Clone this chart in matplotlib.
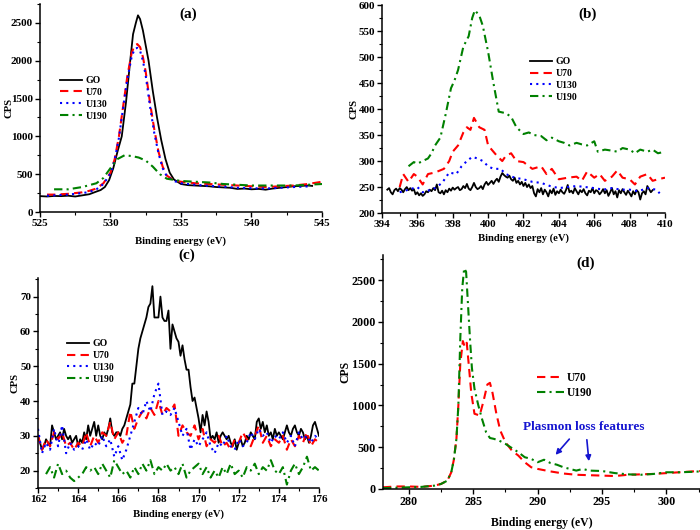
import numpy as np
import matplotlib
matplotlib.use("Agg")
import matplotlib.pyplot as plt
from matplotlib.ticker import MultipleLocator

plt.rcParams["font.family"] = "serif"
plt.rcParams["font.serif"] = ["Liberation Serif", "DejaVu Serif"]
plt.rcParams["font.weight"] = "bold"
plt.rcParams["axes.labelweight"] = "bold"

# ---------------- (a) O1s ----------------
a_go_x = [525, 525.5, 526, 526.5, 527, 527.5, 528, 528.5, 529, 529.3, 529.6, 529.9, 530.2, 530.5,
          530.8, 531.1, 531.4, 531.6, 531.8, 531.95, 532.1, 532.3, 532.5, 532.7, 533.0, 533.3,
          533.6, 533.9, 534.2, 534.5, 535, 535.5, 536, 536.5, 537, 537.5, 538, 538.5, 539, 539.5,
          540, 540.5, 541, 541.5, 542, 542.5, 543, 543.5, 544, 544.3]
a_go_y = [210, 205, 212, 210, 215, 205, 220, 235, 270, 290, 330, 420, 580, 800,
          1000, 1450, 2000, 2350, 2500, 2600, 2550, 2400, 2200, 2000, 1600, 1250,
          950, 700, 520, 430, 370, 355, 350, 345, 340, 330, 325, 320, 305, 310,
          300, 305, 295, 310, 320, 330, 340, 345, 350, 345]
a_u70_x = [525.5, 526, 526.5, 527, 527.5, 528, 528.5, 529, 529.5, 530, 530.3, 530.6, 530.9, 531.2,
           531.5, 531.7, 531.9, 532.1, 532.3, 532.5, 532.8, 533.1, 533.4, 533.7, 534, 534.5, 535,
           536, 537, 538, 539, 540, 541, 542, 543, 544, 545]
a_u70_y = [230, 230, 235, 240, 250, 260, 280, 310, 380, 520, 700, 1000, 1400, 1800,
           2100, 2200, 2220, 2180, 2050, 1850, 1450, 1100, 800, 600, 480, 420, 400,
           380, 370, 360, 350, 340, 330, 340, 350, 370, 400]
a_u130_x = [525.5, 526, 526.5, 527, 527.5, 528, 528.5, 529, 529.5, 530, 530.3, 530.6, 530.9, 531.2,
            531.5, 531.7, 531.9, 532.1, 532.3, 532.5, 532.8, 533.1, 533.4, 533.7, 534, 534.5, 535,
            536, 537, 538, 539, 540, 541, 542, 543, 544.2]
a_u130_y = [215, 220, 225, 230, 240, 250, 265, 300, 370, 510, 690, 980, 1380, 1760,
            2050, 2150, 2170, 2130, 2000, 1800, 1400, 1050, 780, 580, 470, 410, 380,
            360, 345, 335, 320, 315, 310, 320, 330, 340]
a_u190_x = [526, 527, 528, 529, 529.5, 530, 530.5, 531, 531.5, 532, 532.5, 533, 533.5, 534,
            535, 536, 537, 538, 539, 540, 541, 542, 543, 544, 545]
a_u190_y = [300, 300, 330, 380, 450, 580, 700, 750, 740, 720, 680, 600, 500, 440,
            410, 400, 390, 370, 360, 350, 350, 350, 350, 360, 370]

# ---------------- (b) N1s ----------------
b_go_start, b_go_step = 394.3, 0.1
b_go_y = [245, 248, 240, 236, 244, 247, 242, 248, 245, 240,
          246, 250, 244, 248, 243, 246, 236, 240, 234, 238,
          233, 236, 242, 240, 245, 242, 248, 244, 255, 240,
          238, 243, 236, 244, 240, 247, 243, 249, 245, 248,
          250, 244, 246, 252, 248, 256, 247, 244, 250, 258,
          250, 246, 248, 252, 246, 255, 260, 254, 258, 262,
          256, 262, 266, 260, 270, 277, 273, 270, 268, 272,
          265, 262, 268, 258, 262, 255, 260, 252, 258, 250,
          255, 248, 252, 238, 232, 246, 240, 248, 236, 245,
          240, 232, 244, 238, 247, 235, 242, 238, 245, 240,
          237, 244, 254, 240, 243, 238, 248, 242, 236, 244,
          240, 246, 238, 234, 243, 240, 248, 238, 244, 242,
          236, 240, 246, 238, 244, 233, 240, 248, 236, 242,
          230, 244, 238, 246, 240, 235, 243, 238, 232, 242,
          236, 244, 240, 226, 238, 242, 236, 252, 246, 240,
          244]
b_u70_x = [395, 395.2, 395.5, 395.8, 396, 396.3, 396.6, 397, 397.5, 397.8, 398, 398.3, 398.6,
           398.8, 399, 399.2, 399.5, 399.8, 400, 400.5, 400.8, 401, 401.3, 401.6, 402, 402.5,
           403, 403.3, 403.6, 404, 404.5, 405, 405.3, 405.6, 406, 406.3, 406.6, 407, 407.3,
           407.6, 408, 408.3, 408.6, 409, 409.3, 409.6, 410]
b_u70_y = [250, 275, 260, 275, 270, 255, 275, 278, 285, 300, 318, 330, 355,
           365, 360, 383, 365, 360, 330, 310, 300, 310, 315, 300, 298, 285,
           290, 275, 285, 265, 268, 270, 262, 280, 268, 275, 262, 270, 282,
           268, 265, 255, 270, 275, 262, 265, 268]
b_u130_x = [395, 395.5, 396, 396.3, 396.6, 397, 397.4, 397.8, 398.2, 398.5, 398.8, 399.1, 399.4,
            399.7, 400, 400.3, 400.7, 401, 401.5, 402, 402.5, 403, 403.5, 404, 404.5, 405,
            405.5, 406, 406.5, 407, 407.5, 408, 408.5, 409, 409.5, 409.7]
b_u130_y = [240, 245, 250, 240, 243, 248, 258, 278, 275, 290, 300, 308, 305,
            300, 290, 285, 285, 275, 268, 265, 260, 258, 252, 248, 250, 252,
            250, 248, 245, 248, 245, 245, 242, 248, 245, 238]
b_u190_x = [395.5, 395.8, 396, 396.3, 396.6, 396.8, 397, 397.3, 397.6, 397.9, 398.1, 398.3, 398.6,
            398.9, 399.1, 399.25, 399.5, 399.7, 400, 400.3, 400.6, 401, 401.3, 401.6, 402, 402.3,
            402.6, 403, 403.3, 403.6, 404, 404.3, 404.6, 405, 405.3, 405.6, 406, 406.2, 406.6,
            407, 407.3, 407.6, 408, 408.3, 408.6, 409, 409.3, 409.6, 410]
b_u190_y = [290, 298, 295, 300, 305, 315, 330, 345, 390, 440, 455, 475, 520,
            540, 575, 590, 580, 560, 510, 450, 395, 392, 385, 365, 352, 355,
            350, 348, 340, 345, 338, 335, 330, 335, 332, 330, 338, 318, 322,
            320, 318, 325, 322, 315, 322, 318, 322, 315, 318]

# ---------------- (c) S2p ----------------
c_go_start, c_go_step = 162.0, 0.1
c_go_y = [30, 28, 26, 27, 29, 28, 27, 33, 31, 29,
          30, 31, 29, 32, 30, 29, 30, 28, 29, 30,
          27, 29, 28, 31, 29, 33, 30, 32, 34, 30,
          33, 30, 29, 31, 30, 32, 35, 31, 30, 31,
          31, 30, 32, 33, 35, 37, 39, 45, 45, 50,
          55, 58, 60, 62, 64, 67, 68, 73, 64, 64,
          64, 70, 64, 63, 63, 66, 55, 62, 60, 58,
          57, 53, 56, 52, 49, 49, 44, 40, 41, 38,
          35, 31, 36, 33, 37, 34, 29, 30, 29, 31,
          28, 30, 31, 30, 29, 30, 28, 27, 29, 26,
          28, 29, 27, 28, 30, 29, 31, 30, 29, 34,
          35, 32, 34, 31, 33, 30, 31, 29, 32, 30,
          31, 30, 29, 31, 33, 31, 30, 32, 33, 31,
          30, 32, 31, 29, 30, 28, 30, 33, 34, 32,
          30]
c_start, c_step = 162.0, 0.2
c_u70_y = [30, 26, 29, 27, 31, 29, 31, 27, 28, 26, 28, 27, 31, 27, 30, 28, 31, 30, 34, 29,
           31, 28, 30, 37, 32, 35, 37, 35, 38, 36, 40, 36, 38, 37, 39, 30, 33, 31, 30, 33,
           29, 32, 27, 29, 28, 30, 27, 28, 26, 29, 28, 31, 29, 27, 30, 33, 28, 30, 27, 29,
           28, 30, 26, 29, 27, 30, 28, 31, 27, 29, 28]
c_u130_y = [32, 25, 28, 26, 32, 27, 33, 25, 28, 26, 27, 26, 29, 26, 28, 27, 30, 27, 29, 24,
            27, 23, 26, 30, 34, 38, 36, 40, 37, 42, 45, 36, 37, 36, 38, 34, 30, 32, 26, 29,
            27, 29, 31, 27, 25, 28, 27, 30, 27, 26, 29, 27, 28, 31, 29, 32, 30, 31, 28, 30,
            29, 31, 28, 30, 27, 31, 29, 30, 28, 30, 29]
c_u190_start = 162.4
c_u190_y = [19, 21, 18, 22, 19, 20, 18, 17, 18, 19, 21, 20, 21, 19, 22, 20, 18, 23,
            21, 19, 20, 18, 21, 19, 22, 20, 23, 19, 21, 20, 22, 20, 21, 19, 22, 18, 20, 21,
            22, 19, 21, 18, 20, 18, 21, 19, 22, 19, 20, 18, 21, 20, 22, 19, 21, 20, 23, 20,
            19, 21, 16, 20, 22, 19, 21, 24, 20, 21, 20]

# ---------------- (d) C1s ----------------
d_u70_x = [278, 279, 280, 281, 282, 282.5, 283, 283.3, 283.5, 283.7, 283.85, 284.0, 284.2, 284.35,
           284.5, 284.65, 284.85, 285.1, 285.5, 285.8, 286.1, 286.3, 286.5, 286.8, 287.1, 287.5,
           288, 288.5, 289, 289.5, 290, 291, 292, 293, 294, 295, 296, 297, 298, 299, 300, 301,
           302, 302.6]
d_u70_y = [20, 30, 30, 25, 40, 60, 100, 200, 350, 600, 1000, 1500, 1770, 1700,
           1750, 1500, 1150, 900, 880, 1050, 1250, 1270, 1150, 900, 700, 560,
           460, 400, 320, 260, 240, 210, 185, 170, 165, 160, 155, 170, 175, 180, 190, 200,
           210, 215]
d_u190_x = [278, 279, 280, 281, 282, 282.5, 283, 283.3, 283.5, 283.7, 283.85, 284.0, 284.15, 284.3,
            284.45, 284.6, 284.75, 284.9, 285.1, 285.4, 285.7, 286, 286.3, 286.6, 287, 287.5,
            288, 288.5, 289, 289.5, 290, 290.5, 291, 291.5, 292, 292.5, 293, 293.5, 294, 295,
            296, 297, 298, 299, 300, 301, 302, 302.6]
d_u190_y = [10, 15, 20, 25, 40, 60, 100, 200, 350, 600, 1000, 1800, 2400, 2640,
            2600, 2200, 1800, 1450, 1200, 1000, 830, 680, 610, 600, 580, 540,
            490, 440, 380, 360, 320, 350, 310, 290, 260, 240, 220, 240, 220, 215,
            190, 175, 170, 180, 200, 200, 205, 210]

labels = ["GO", "U70", "U130", "U190"]
colors = ["black", "#ff0000", "#0000ff", "#008000"]
dashes = [None, (4, 2.5), (1, 2), (4, 2, 1, 2)]


def draw(ax, x, y, i):
    if dashes[i] is None:
        ax.plot(x, y, color=colors[i], lw=1.3, label=labels[i])
    else:
        ax.plot(x, y, color=colors[i], lw=1.5, dashes=dashes[i], label=labels[i])


def style(ax, xmaj, ymaj, ylab_x, xlab_y, tsize=8, lsize=7.7):
    for s in ["top", "right"]:
        ax.spines[s].set_visible(False)
    for s in ["left", "bottom"]:
        ax.spines[s].set_linewidth(1.1)
    ax.xaxis.set_major_locator(MultipleLocator(xmaj))
    ax.xaxis.set_minor_locator(MultipleLocator(xmaj / 2))
    ax.yaxis.set_major_locator(MultipleLocator(ymaj))
    ax.yaxis.set_minor_locator(MultipleLocator(ymaj / 2))
    ax.tick_params(which="major", direction="out", length=3.5, width=1, labelsize=tsize, pad=1.5)
    ax.tick_params(which="minor", direction="out", length=2, width=0.8)
    for t in ax.get_xticklabels() + ax.get_yticklabels():
        t.set_fontweight("bold")
    ax.set_xlabel("Binding energy (eV)", fontsize=lsize, fontweight="bold", va="center")
    ax.set_ylabel("CPS", fontsize=lsize, fontweight="bold", va="center")
    ax.xaxis.set_label_coords(0.5, xlab_y)
    ax.yaxis.set_label_coords(ylab_x, 0.5)


def leg(ax, x, y, size=7):
    ax.legend(loc="upper left", bbox_to_anchor=(x, y), frameon=False,
              handlelength=2.3, handletextpad=0.3, labelspacing=0.3,
              borderpad=0, borderaxespad=0, prop={"weight": "bold", "size": size})


fig = plt.figure(figsize=(7, 5.3), dpi=100)

ax_a = fig.add_axes([0.0571, 0.600, 0.4029, 0.3925])
draw(ax_a, a_go_x, a_go_y, 0)
draw(ax_a, a_u70_x, a_u70_y, 1)
draw(ax_a, a_u130_x, a_u130_y, 2)
draw(ax_a, a_u190_x, a_u190_y, 3)
ax_a.set_xlim(525, 545)
ax_a.set_ylim(0, 2750)
style(ax_a, 5, 500, -0.11, -0.139)
leg(ax_a, 0.071, 0.654)

ax_b = fig.add_axes([0.5457, 0.598, 0.4043, 0.3925])
b_go_x = b_go_start + b_go_step * np.arange(len(b_go_y))
draw(ax_b, b_go_x, b_go_y, 0)
draw(ax_b, b_u70_x, b_u70_y, 1)
draw(ax_b, b_u130_x, b_u130_y, 2)
draw(ax_b, b_u190_x, b_u190_y, 3)
ax_b.set_xlim(394, 410)
ax_b.set_ylim(200, 600)
style(ax_b, 2, 50, -0.099, -0.12)
leg(ax_b, 0.523, 0.75)

ax_c = fig.add_axes([0.0543, 0.0792, 0.4014, 0.396])
c_go_x = c_go_start + c_go_step * np.arange(len(c_go_y))
c_x = c_start + c_step * np.arange(len(c_u70_y))
c_u190_x = c_u190_start + c_step * np.arange(len(c_u190_y))
draw(ax_c, c_go_x, c_go_y, 0)
draw(ax_c, c_x, c_u70_y, 1)
draw(ax_c, c_x, c_u130_y, 2)
draw(ax_c, c_u190_x, c_u190_y, 3)
ax_c.set_xlim(162, 176)
ax_c.set_ylim(15, 75.3)
style(ax_c, 2, 10, -0.082, -0.124)
leg(ax_c, 0.103, 0.71)

ax_d = fig.add_axes([0.5471, 0.0774, 0.4529, 0.4415])
draw(ax_d, d_u70_x, d_u70_y, 1)
draw(ax_d, d_u190_x, d_u190_y, 3)
ax_d.set_xlim(278, 302.6)
ax_d.set_ylim(0, 2800)
style(ax_d, 5, 500, -0.12, -0.145, tsize=8.7, lsize=8.5)
leg(ax_d, 0.486, 0.5, size=8.3)
ax_d.text(293.6, 742, "Plasmon loss features", color="#1515d0", fontsize=9.5,
          fontweight="bold", ha="center", va="center")
ax_d.annotate("", xy=(291.25, 383), xytext=(292.6, 622),
              arrowprops=dict(arrowstyle="-|>", color="#1515d0", lw=1.2, mutation_scale=8))
ax_d.annotate("", xy=(294.0, 299), xytext=(293.8, 622),
              arrowprops=dict(arrowstyle="-|>", color="#1515d0", lw=1.2, mutation_scale=8))

for lab, x, y in [("(a)", 0.269, 0.974), ("(b)", 0.840, 0.974),
                  ("(c)", 0.267, 0.519), ("(d)", 0.836, 0.504)]:
    fig.text(x, y, lab, fontsize=11, fontweight="bold", ha="center", va="center")

fig.savefig("out.png", dpi=100)
